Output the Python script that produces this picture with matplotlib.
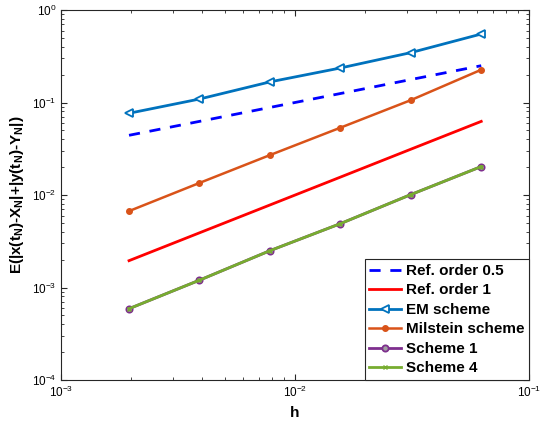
import matplotlib
matplotlib.use("Agg")
import matplotlib.pyplot as plt
from matplotlib.ticker import LogLocator, NullFormatter

plt.rcParams['font.family'] = ['Liberation Sans', 'DejaVu Sans']
plt.rcParams['mathtext.fontset'] = 'custom'
plt.rcParams['mathtext.rm'] = 'Liberation Sans'
plt.rcParams['mathtext.it'] = 'Liberation Sans:italic'
plt.rcParams['mathtext.bf'] = 'Liberation Sans:bold'

h = [2**-9, 2**-8, 2**-7, 2**-6, 2**-5, 2**-4]
ref_half = [0.0442, 0.0625, 0.0884, 0.125, 0.177, 0.25]
ref_one = [0.00195, 0.0039, 0.0078, 0.0156, 0.03125, 0.0625]
em = [0.0765, 0.109, 0.167, 0.236, 0.346, 0.55]
milstein = [0.0067, 0.0135, 0.027, 0.0534, 0.106, 0.226]
scheme1 = [0.00059, 0.0012, 0.0025, 0.0049, 0.0101, 0.0203]
scheme4 = [0.00059, 0.0012, 0.0025, 0.0049, 0.0101, 0.0203]

fig = plt.figure(figsize=(5.46, 4.24), dpi=100)
ax = fig.add_axes([61/546, 1-380/424, (529-61)/546, (380-10)/424])

ax.loglog(h, ref_half, '--', color='#0000FF', lw=2, dashes=(4, 3.5), label='Ref. order 0.5')
ax.loglog(h, ref_one, '-', color='#FF0000', lw=2, label='Ref. order 1')
ax.loglog(h, em, '-', color='#0072BD', lw=2, marker='<', ms=5.5, mfc='white',
          mec='#0072BD', mew=1.3, label='EM scheme')
ax.loglog(h, milstein, '-', color='#D95319', lw=1.8, marker='o', ms=4,
          mfc='#D95319', mec='#D95319', label='Milstein scheme')
ax.loglog(h, scheme1, '-', color='#7E2F8E', lw=2, marker='o', ms=4.5, mfc='#A0A0A0',
          mec='#7E2F8E', mew=1.3, label='Scheme 1')
ax.loglog(h, scheme4, '-', color='#77AC30', lw=2, marker='x', ms=3, mec='#77AC30',
          mew=1.0, label='Scheme 4')

ax.set_xlim(1e-3, 1e-1)
ax.set_ylim(1e-4, 1e0)
ax.xaxis.set_major_locator(LogLocator(base=10, numticks=10))
ax.yaxis.set_major_locator(LogLocator(base=10, numticks=10))
ax.xaxis.set_minor_locator(LogLocator(base=10, subs=range(2, 10), numticks=20))
ax.yaxis.set_minor_locator(LogLocator(base=10, subs=range(2, 10), numticks=20))
ax.xaxis.set_minor_formatter(NullFormatter())
ax.yaxis.set_minor_formatter(NullFormatter())
ax.tick_params(which='both', direction='in', top=True, right=True, labelsize=8.5, color='#262626')
ax.tick_params(which='major', length=4)
ax.tick_params(which='minor', length=2.5)
for s in ax.spines.values():
    s.set_linewidth(0.8)
    s.set_color('#262626')

ax.set_xlabel('h', fontsize=11, fontweight='bold')
ax.set_ylabel(r'E(|x(t$_\mathbf{N}$)-X$_\mathbf{N}$|+|y(t$_\mathbf{N}$)-Y$_\mathbf{N}$|)',
              fontsize=11, fontweight='bold')

leg = ax.legend(loc='lower right', prop={'weight': 'bold', 'size': 11}, fancybox=False,
                edgecolor='#262626', framealpha=1, borderaxespad=0.0, handlelength=2.1,
                handletextpad=0.3, labelspacing=0.36, borderpad=0.3)
leg.get_frame().set_linewidth(0.8)

fig.savefig('out.png', dpi=100)
